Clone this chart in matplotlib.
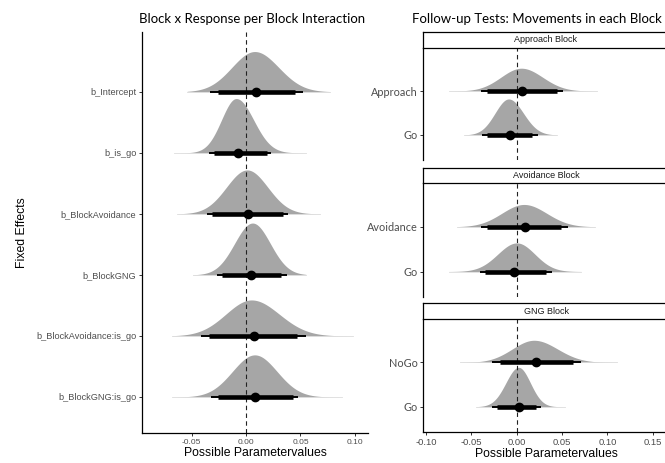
import numpy as np
import matplotlib
matplotlib.use("Agg")
import matplotlib.pyplot as plt

# ---------------- data ----------------
# Left panel: fixed effects (top to bottom)
left_labels = ["b_Intercept", "b_is_go", "b_BlockAvoidance", "b_BlockGNG",
               "b_BlockAvoidance:is_go", "b_BlockGNG:is_go"]
left_point = [0.0096, -0.0069, 0.0014, 0.0050, 0.0070, 0.0080]
left_thick_lo = [-0.026, -0.029, -0.031, -0.022, -0.034, -0.026]
left_thick_hi = [0.045, 0.019, 0.034, 0.032, 0.047, 0.043]
left_thin_lo = [-0.033, -0.034, -0.036, -0.027, -0.041, -0.032]
left_thin_hi = [0.052, 0.023, 0.039, 0.038, 0.055, 0.048]
left_mode = [0.008, -0.009, 0.001, 0.006, 0.005, 0.008]
left_sd_lo = [0.021, 0.0135, 0.019, 0.0165, 0.0235, 0.0205]
left_sd_hi = [0.022, 0.0160, 0.019, 0.0163, 0.0255, 0.0205]
left_ext_lo = [-0.054, -0.066, -0.063, -0.049, -0.068, -0.068]
left_ext_hi = [0.077, 0.055, 0.068, 0.055, 0.098, 0.088]
left_height = [0.66, 0.89, 0.72, 0.85, 0.59, 0.69]
left_xticks = [-0.05, 0.00, 0.05, 0.10]

# Right panels: follow-up tests
panel_titles = ["Approach Block", "Avoidance Block", "GNG Block"]
panel_labels = [["Approach", "Go"], ["Avoidance", "Go"], ["NoGo", "Go"]]
right_point = [[0.006, -0.008], [0.009, -0.003], [0.021, 0.002]]
right_thick_lo = [[-0.033, -0.033], [-0.033, -0.035], [-0.019, -0.022]]
right_thick_hi = [[0.044, 0.017], [0.049, 0.032], [0.062, 0.021]]
right_thin_lo = [[-0.039, -0.038], [-0.040, -0.041], [-0.027, -0.027]]
right_thin_hi = [[0.051, 0.023], [0.057, 0.039], [0.071, 0.027]]
right_mode = [[0.005, -0.009], [0.008, 0.000], [0.019, 0.002]]
right_sd_lo = [[0.0225, 0.015], [0.0245, 0.021], [0.024, 0.014]]
right_sd_hi = [[0.0235, 0.0163], [0.025, 0.020], [0.026, 0.013]]
right_ext_lo = [[-0.075, -0.058], [-0.066, -0.075], [-0.063, -0.045]]
right_ext_hi = [[0.089, 0.044], [0.086, 0.071], [0.111, 0.053]]
right_height = [[0.52, 0.82], [0.50, 0.64], [0.50, 0.89]]
right_xticks = [-0.10, -0.05, 0.00, 0.05, 0.10, 0.15]

# ---------------- style ----------------
W, H = 665, 463
DENS = "#A6A6A6"
TICKCOL = "#4D4D4D"
TITLEFONT = ["Lato", "DejaVu Sans"]
ARIAL = ["Liberation Sans", "DejaVu Sans"]

fig = plt.figure(figsize=(W / 100, H / 100), dpi=100)
fig.patch.set_facecolor("white")


def rect(x0, y0, x1, y1):
    return [x0 / W, 1 - y1 / H, (x1 - x0) / W, (y1 - y0) / H]


def draw_row(ax, base, mode, sdl, sdr, elo, ehi, h, tlo, thi, klo, khi, pt):
    x = np.linspace(elo, ehi, 400)
    s = np.where(x < mode, sdl, sdr)
    d = np.exp(-0.5 * ((x - mode) / s) ** 2)
    ax.fill_between(x, base, base + h * d, color=DENS, lw=0, zorder=1)
    ax.plot([elo, ehi], [base, base], color="#DDDDDD", lw=0.6, zorder=1)
    ax.plot([tlo, thi], [base, base], color="black", lw=1.4,
            solid_capstyle="butt", zorder=3)
    ax.plot([klo, khi], [base, base], color="black", lw=3.3,
            solid_capstyle="butt", zorder=4)
    ax.plot([pt], [base], "o", color="black", ms=6.0, zorder=5)


def style_axis(ax):
    for side in ["top", "right"]:
        ax.spines[side].set_visible(False)
    for side in ["left", "bottom"]:
        ax.spines[side].set_color("black")
        ax.spines[side].set_linewidth(0.9)
    ax.tick_params(length=2.5, width=0.7, color="#333333", pad=1.5)


# ---------------- left panel ----------------
axL = fig.add_axes(rect(142, 32, 368, 433))
n = len(left_labels)
ys = np.arange(n, 0, -1)
for i in range(n):
    draw_row(axL, ys[i], left_mode[i], left_sd_lo[i], left_sd_hi[i],
             left_ext_lo[i], left_ext_hi[i], left_height[i],
             left_thin_lo[i], left_thin_hi[i], left_thick_lo[i],
             left_thick_hi[i], left_point[i])
axL.axvline(0, color="#222222", lw=0.8, ls=(0, (4, 3)), zorder=2)
axL.set_xlim(-0.0955, 0.112)
axL.set_ylim(0.41, n + 0.98)
axL.set_yticks(ys)
axL.set_yticklabels(left_labels, fontfamily=ARIAL, fontsize=6.6, color=TICKCOL)
axL.set_xticks(left_xticks)
axL.set_xticklabels([f"{v:.2f}" for v in left_xticks], fontfamily=ARIAL,
                    fontsize=6.0, color=TICKCOL)
style_axis(axL)
axL.set_xlabel("Possible Parametervalues", fontfamily=ARIAL, fontsize=8.8,
               labelpad=1)
axL.set_ylabel("Fixed Effects", fontfamily=ARIAL, fontsize=8.8, labelpad=6)
fig.text(252 / W, 1 - 19 / H, "Block x Response per Block Interaction",
         fontfamily=TITLEFONT, fontsize=9.5, ha="center", va="center")

# ---------------- right panels ----------------
panel_y = [(48, 160), (183, 297), (319, 432)]
strip_y = [(32, 48), (168, 183), (303, 319)]
XR0, XR1 = 423, 669
for p in range(3):
    ax = fig.add_axes(rect(XR0, panel_y[p][0], XR1, panel_y[p][1]))
    yy = [2, 1]
    for j in range(2):
        draw_row(ax, yy[j], right_mode[p][j], right_sd_lo[p][j],
                 right_sd_hi[p][j], right_ext_lo[p][j], right_ext_hi[p][j],
                 right_height[p][j], right_thin_lo[p][j], right_thin_hi[p][j],
                 right_thick_lo[p][j], right_thick_hi[p][j], right_point[p][j])
    ax.axvline(0, color="#222222", lw=0.8, ls=(0, (4, 3)), zorder=2)
    ax.set_xlim(-0.1035, 0.168)
    ax.set_ylim(0.43, 2.98)
    ax.set_yticks(yy)
    ax.set_yticklabels(panel_labels[p], fontfamily=TITLEFONT, fontsize=7.8,
                       color=TICKCOL)
    style_axis(ax)
    ax.set_xticks(right_xticks)
    if p < 2:
        ax.spines["bottom"].set_visible(False)
        ax.tick_params(axis="x", length=0, labelbottom=False)
    else:
        ax.set_xticklabels([f"{v:.2f}" for v in right_xticks],
                           fontfamily=ARIAL, fontsize=6.8, color=TICKCOL)
        ax.set_xlabel("Possible Parametervalues", fontfamily=ARIAL,
                      fontsize=8.8, labelpad=1)
    # strip
    sx = fig.add_axes(rect(XR0, strip_y[p][0], XR1, strip_y[p][1]))
    sx.set_xticks([])
    sx.set_yticks([])
    for side in sx.spines.values():
        side.set_color("black")
        side.set_linewidth(0.9)
    sx.text(0.5, 0.5, panel_titles[p], ha="center", va="center",
            fontfamily=ARIAL, fontsize=6.5, color="#1A1A1A",
            transform=sx.transAxes)

fig.text(537 / W, 1 - 19 / H, "Follow-up Tests: Movements in each Block",
         fontfamily=TITLEFONT, fontsize=9.5, ha="center", va="center")

fig.savefig("out.png", dpi=100, facecolor="white")
